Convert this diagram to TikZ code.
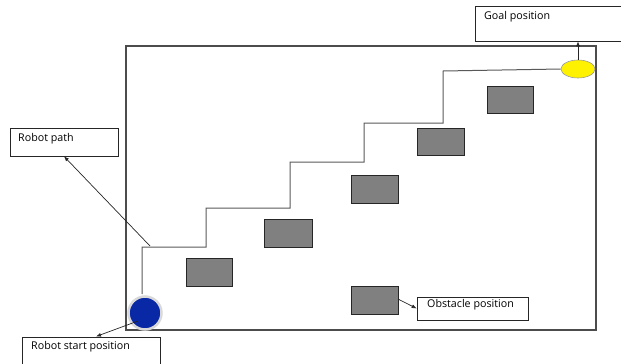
\documentclass[tikz,border=0pt]{standalone}
\usepackage{fontspec}
\setmainfont{Open Sans}
\usetikzlibrary{arrows.meta,shapes.geometric}
\definecolor{robotblue}{RGB}{8,40,165}
\begin{document}
\begin{tikzpicture}[x=1pt,y=-1pt,
  obst/.style={draw=black!85,fill=black!50,line width=0.9pt},
  lbl/.style={draw=black!85,fill=white,line width=0.7pt},
  lbltext/.style={font=\fontsize{10.7}{12}\selectfont,anchor=north west,inner sep=0pt},
  conn/.style={draw=black!85,line width=0.7pt,-{Latex[length=5pt,width=4pt]}},
  pathline/.style={draw=black!65,line width=1pt}]
\useasboundingbox (0,0) rectangle (621,364);
% outer field
\draw[draw=black!70,line width=1.2pt] (126,46) rectangle (596,330);
% obstacles
\draw[obst] (186,258) rectangle (232,286);
\draw[obst] (264,219) rectangle (312,247);
\draw[obst] (351,175) rectangle (398,203);
\draw[obst] (417,128) rectangle (464,155);
\draw[obst] (487,86) rectangle (533,113);
\node[obst,minimum width=47pt,minimum height=28pt,inner sep=0pt] (ob) at (374.5,300) {};
% goal and robot
\node[draw=black!40,fill=yellow,ellipse,minimum width=34pt,minimum height=18pt,inner sep=0pt,line width=0.6pt] (goal) at (578,69) {};
\node[circle,fill=robotblue,draw=black!15,line width=2.5pt,minimum size=33pt,inner sep=0pt] (robot) at (145,313) {};
% robot path
\coordinate (p0) at (142,294);
\draw[pathline] (p0) -- (142,247) -- (206,247) -- (206,208) -- (290,208) -- (290,162) -- (364,162) -- (364,123) -- (443,123) -- (443,71) -- (goal.west);
% label boxes
\node[lbl,minimum width=146pt,minimum height=35pt,inner sep=0pt] (gbox) at (548,23.5) {};
\node[lbltext] at (484,11) {Goal position};
\node[lbl,minimum width=108pt,minimum height=28pt,inner sep=0pt] (pbox) at (64,142) {};
\node[lbltext] at (18,133) {Robot path};
\node[lbl,minimum width=138pt,minimum height=30pt,inner sep=0pt] (sbox) at (91,352) {};
\node[lbltext] at (31,341) {Robot start position};
\node[lbl,minimum width=111pt,minimum height=23pt,inner sep=0pt] (obox) at (472.5,308.5) {};
\node[lbltext] at (427,299.5) {Obstacle position};
% connectors
\coordinate (pc) at (150,246);
\coordinate (rc) at (138,321);
\coordinate (oc) at (398,299);
\draw[conn] (pc) -- (pbox.south);
\draw[conn] (goal.north) -- (gbox.south -| goal.north);
\draw[conn] (rc) -- (96,336.5);
\draw[conn] (oc) -- (obox.west);
\end{tikzpicture}
\end{document}
